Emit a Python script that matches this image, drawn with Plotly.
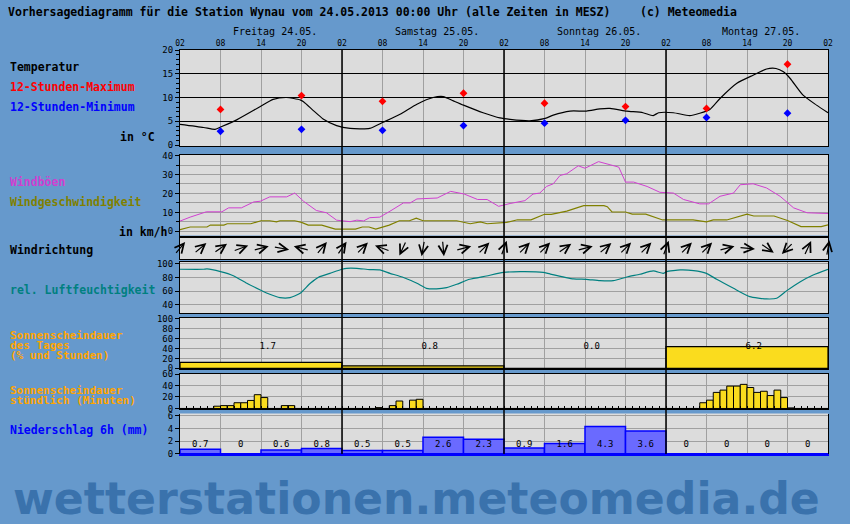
import math
import plotly.graph_objects as go

W, H = 850, 524

# ---------------- data (hours counted from Friday 24.05. 02:00) ----------------
day_names = ["Freitag 24.05.", "Samstag 25.05.", "Sonntag 26.05.", "Montag 27.05."]
hour_tick_labels = ["02", "08", "14", "20"]

temp_hours = [0, 3.5, 5.2, 6.2, 8.4, 11.9, 13.8, 15.8, 17.8, 18.3, 19.8, 21.2, 23.2, 25.2, 28.1,
              30.1, 32.6, 35.1, 37.5, 39, 40.5, 42, 44.9, 47.4, 48.9, 51.8, 54.1, 55.3, 57.8,
              60.2, 62.2, 63.7, 66.2, 68.6, 70.1, 70.9, 73.1, 75.5, 77, 78.5, 80, 82.5, 84.9,
              86.9, 88.3, 89.4, 90.4, 92.3, 94.3, 96]
temp_vals = [4.35, 3.7, 3.3, 3.9, 5.3, 8.1, 9.6, 10.0, 9.5, 9.1, 7.2, 5.5, 4.1, 3.5, 3.5,
             4.8, 6.5, 8.6, 10.0, 10.2, 9.3, 8.4, 6.8, 5.7, 5.4, 5.1, 5.6, 6.3, 7.15,
             7.15, 7.6, 7.7, 7.15, 6.8, 6.2, 6.8, 6.8, 6.2, 6.7, 7.5, 9.8, 13.0, 14.7,
             16.0, 16.1, 15.4, 14.0, 10.5, 8.4, 6.8]

tmm_hours = [6, 18, 30, 42, 54, 66, 78, 90]
tmax_vals = [7.5, 10.4, 9.2, 10.9, 8.8, 8.1, 7.7, 17.0]
tmin_vals = [2.9, 3.3, 3.1, 4.1, 4.6, 5.2, 5.8, 6.7]

gust_hours = [0, 1.5, 3.9, 6.2, 7.2, 9.1, 10.9, 11.9, 13.3, 15.8, 17, 18.3, 20.2, 21.7, 23.2,
              25.2, 26.2, 27.2, 28.1, 29.6, 31.1, 33.1, 34.1, 35.1, 38.1, 40.1, 42.1, 44.1,
              45.5, 47.2, 48.9, 51.1, 52.3, 53.3, 54.3, 55.3, 56.3, 57.3, 59, 60, 62, 63.7,
              65, 66, 67.2, 69.2, 71.1, 73.1, 74.6, 77, 78.3, 80, 82, 83, 84.9, 86.9, 88.9,
              90.9, 92.9, 96]
gust_vals = [5.4, 7.5, 10.3, 10.3, 12.4, 12.4, 15.5, 15.9, 18.2, 18.2, 20.2, 15.9, 11.0, 9.8, 5.9,
             5.1, 5.9, 5.5, 7.2, 7.5, 10.6, 15.0, 15.0, 17.1, 17.6, 21.1, 19.7, 16.8,
             16.8, 13.2, 14.7, 16.2, 19.7, 20.2, 23.7, 25.1, 29.5, 30.4, 34.6, 33.3, 36.8, 35.1,
             33.9, 26.0, 26.0, 23.7, 20.6, 20.2, 16.8, 14.5, 14.5, 18.5, 20.2, 24.6, 25.1, 22.9, 18.5,
             12.4, 9.8, 9.4]

wind_hours = [0, 1.5, 4, 4.5, 6.5, 7, 10.5, 12, 13.3, 14.3, 14.8, 17, 18, 19, 21, 23, 26, 27, 28,
              29, 31, 32.5, 34, 35, 36, 41, 43, 44.5, 45.5, 48.4, 50, 52, 54, 55, 57.3, 59.8,
              62.8, 63.3, 64, 66, 67, 69, 71.5, 76, 78, 79, 81, 82, 84, 85, 88, 90, 92, 95, 96]
wind_vals = [0.9, 2.3, 2.3, 3.3, 3.3, 4.0, 4.0, 5.6, 5.6, 5.0, 5.6, 5.6, 4.7, 3.3, 3.3, 1.2, 1.2, 2.3, 2.3,
             1.2, 3.3, 5.6, 5.6, 7.0, 5.6, 5.6, 4.0, 5.0, 4.0, 4.7, 6.1, 6.1, 9.0, 9.0, 10.7, 13.6,
             13.6, 13.0, 10.2, 10.2, 9.1, 9.1, 6.0, 6.0, 5.0, 6.0, 6.0, 7.0, 9.1, 8.1, 8.1, 5.7, 2.5, 2.5, 3.4]

dir_hours = list(range(0, 97, 3))
dir_deg = [220, 230, 235, 250, 255, 280, 105, 220, 215, 225, 110, 25, 10, 355, 255, 225,
           200, 225, 225, 235, 255, 230, 225, 225, 200, 225, 225, 255, 275, 305, 45, 205, 190]

rh_hours = [0, 3.5, 4, 6, 7.9, 9.9, 11.9, 13.3, 14.8, 16.3, 17.8, 19.3, 20.7, 22.2, 24, 24.7,
            26.2, 28.1, 29.6, 31.1, 33.1, 35.1, 36.5, 38.0, 39.5, 41, 42.9, 45.4, 47.9, 50.4,
            53.8, 54.8, 58.3, 60.2, 62.2, 64.2, 66.2, 68.1, 70.1, 71.6, 72.1, 74.1, 76.1, 78,
            79.5, 82, 84.4, 86.9, 88.4, 89.9, 91.9, 93.8, 96]
rh_vals = [92.2, 92.2, 92.7, 88.7, 82.7, 71.5, 61.7, 55.3, 50.3, 50.3, 56.7, 71.5, 81.3, 86.2, 92.2, 93.6,
           93.6, 91.7, 91.2, 86.2, 80.0, 71.5, 64.1, 63.2, 65.0, 70.0, 77.4, 82.3, 87.5, 88.7,
           87.7, 85.3, 77.9, 77.4, 75.4, 75.4, 80.8, 84.8, 89.7, 86.2, 88.7, 91.2, 90.2, 86.2,
           77.4, 64.1, 51.8, 48.4, 49.4, 60.7, 73.9, 83.8, 92.2]

sun_day_pct = [12, 5, 0, 44]
sun_day_hours = [1.7, 0.8, 0.0, 6.2]

# hourly sunshine in minutes, 24 values per day starting 02:00
sun_fri = [0, 0, 0, 0, 0, 4, 5, 5, 10, 10, 14, 24, 19, 0, 0, 5, 5, 0, 0, 0, 0, 0, 0, 0]
sun_sat = [0, 0, 0, 0, 0, 1.5, 0, 5, 13, 0, 14.5, 16, 0, 0, 0, 0, 0, 0, 0, 0, 0, 0, 0, 0]
sun_sun = [0] * 24
sun_mon = [0, 0, 0, 0, 0, 10, 14.5, 28, 32, 39, 39, 42, 36.5, 28, 30, 22.5, 32, 19, 1, 0, 0, 0, 0, 0]

precip_6h = [0.7, 0, 0.6, 0.8, 0.5, 0.5, 2.6, 2.3, 0.9, 1.6, 4.3, 3.6, 0, 0, 0, 0]

# ---------------- helpers ----------------
def PX(px):
    return px / W

def PY(py):
    return 1 - py / H

X0, X1 = 180, 828
px_per_hour = (X1 - X0) / 96.0

BG = "#6699CC"
PANEL = "#DCDCDC"
GRID = "#A0A0A0"
MONO = "DejaVu Sans Mono"
YELLOW = "#FADC1E"

panels = [
    (50, 146, [-0.2, 20], [0, 5, 10, 15, 20], "black", dict(dtick=1, ticks="outside", ticklen=3, tickcolor="black", showgrid=False)),
    (155, 235.5, [-2.2, 40.3], [0, 10, 20, 30, 40], GRID, dict(dtick=5, ticks="outside", ticklen=3, tickcolor="black", showgrid=True, gridcolor=GRID)),
    (237.5, 259, [-1, 1], [], GRID, None),
    (262, 313, [27.7, 102.9], [40, 60, 80, 100], GRID, None),
    (318, 369, [-1.4, 102], [0, 20, 40, 60, 80, 100], GRID, None),
    (373.5, 409, [-0.9, 60.9], [0, 20, 40, 60], GRID, None),
    (413.5, 454, [-0.05, 6.35], [0, 2, 4, 6], GRID, None),
]

layout = dict(
    template="none",
    width=W, height=H, autosize=False,
    margin=dict(l=0, r=0, t=0, b=0, pad=0, autoexpand=False),
    paper_bgcolor=BG, plot_bgcolor=PANEL,
    showlegend=False, barmode="overlay",
    font=dict(family=MONO, size=9, color="black"),
)

xt = list(range(0, 97, 6))
for i, (top, bot, rng, tv, gc, minor) in enumerate(panels):
    k = i + 1
    xa = "xaxis" if k == 1 else f"xaxis{k}"
    ya = "yaxis" if k == 1 else f"yaxis{k}"
    xd = dict(domain=[PX(X0), PX(X1)], range=[0, 96], anchor=("y" if k == 1 else f"y{k}"),
              tickvals=xt, showgrid=True, gridcolor=GRID, gridwidth=1, automargin=False,
              showline=True, mirror=True, linecolor="black", linewidth=1,
              zeroline=False, ticks="", showticklabels=False, fixedrange=True)
    if k == 1:
        xd.update(side="top", showticklabels=True,
                  ticktext=[hour_tick_labels[j % 4] for j in range(len(xt))],
                  tickfont=dict(family=MONO, size=8, color="black"))
    if k == 6:
        xd.update(ticks="inside", ticklen=3, tickcolor="black",
                  minor=dict(dtick=1, tick0=0, ticks="inside", ticklen=3, tickcolor="black", showgrid=False))
    if k == 7:
        xd.update(mirror=False, linecolor="#0000FF", linewidth=1.5)
    layout[xa] = xd
    yd = dict(domain=[PY(bot), PY(top)], range=rng, anchor=("x" if k == 1 else f"x{k}"),
              tickvals=tv, showgrid=bool(tv), gridcolor=gc, gridwidth=1, automargin=False,
              showline=True, mirror=True, linecolor="black", linewidth=1,
              zeroline=False, ticks=("outside" if tv else ""), ticklen=4, tickcolor="black",
              tickfont=dict(family=MONO, size=9, color="black"), fixedrange=True)
    if minor:
        yd["minor"] = minor
    if k == 1:
        yd.update(zeroline=True, zerolinecolor="black", zerolinewidth=3)
    layout[ya] = yd

fig = go.Figure(layout=layout)

# temperature
fig.add_trace(go.Scatter(x=temp_hours, y=temp_vals, mode="lines", line=dict(color="black", width=1.2, shape="spline", smoothing=0.6),
                         xaxis="x", yaxis="y"))
fig.add_trace(go.Scatter(x=tmm_hours, y=tmax_vals, mode="markers", marker=dict(symbol="diamond", size=6, color="#FF0000"),
                         xaxis="x", yaxis="y"))
fig.add_trace(go.Scatter(x=tmm_hours, y=tmin_vals, mode="markers", marker=dict(symbol="diamond", size=6, color="#0000FF"),
                         xaxis="x", yaxis="y"))

# wind
fig.add_trace(go.Scatter(x=gust_hours, y=gust_vals, mode="lines", line=dict(color="#D040D0", width=1),
                         xaxis="x2", yaxis="y2"))
fig.add_trace(go.Scatter(x=wind_hours, y=wind_vals, mode="lines", line=dict(color="#808000", width=1.2),
                         xaxis="x2", yaxis="y2"))

# humidity
fig.add_trace(go.Scatter(x=rh_hours, y=rh_vals, mode="lines", line=dict(color="#008080", width=1.2, shape="spline", smoothing=0.5),
                         xaxis="x4", yaxis="y4"))

# daily sunshine
day_centers = [12 + 24 * d for d in range(4)]
fig.add_trace(go.Bar(x=day_centers, y=sun_day_pct, width=24, marker=dict(color=YELLOW, line=dict(color="black", width=1.2)),
                     xaxis="x5", yaxis="y5"))
fig.add_trace(go.Scatter(x=[13 + 24 * d for d in range(4)], y=[43] * 4, mode="text",
                         text=[f"{v:.1f}" for v in sun_day_hours], textfont=dict(family=MONO, size=9, color="black"),
                         xaxis="x5", yaxis="y5"))

# hourly sunshine
sun_hourly = sun_fri + sun_sat + sun_sun + sun_mon
fig.add_trace(go.Bar(x=[h + 0.5 for h in range(96)], y=sun_hourly, width=1,
                     marker=dict(color=YELLOW, line=dict(color="black", width=1)),
                     xaxis="x6", yaxis="y6"))

# precipitation
bins = [3 + 6 * i for i in range(16)]
fig.add_trace(go.Bar(x=bins, y=precip_6h, width=6, marker=dict(color="#6A6AFF", line=dict(color="#0000FF", width=1.5)),
                     xaxis="x7", yaxis="y7"))
fig.add_trace(go.Scatter(x=bins, y=[1.4] * 16, mode="text",
                         text=[("0" if v == 0 else f"{v:.1f}") for v in precip_6h],
                         textfont=dict(family=MONO, size=9, color="black"), xaxis="x7", yaxis="y7"))

# day separator lines
for d in [24, 48, 72]:
    fig.add_shape(type="line", xref="x", yref="paper", x0=d, x1=d, y0=PY(454), y1=PY(50),
                  line=dict(color="black", width=1.5), layer="above")

ann = []
# wind direction arrows
dir_px_per_unit = (259 - 237.5) / 2.0
half = 8.0
for h, d in zip(dir_hours, dir_deg):
    a = math.radians(270 - d)
    dxh = half * math.cos(a) / px_per_hour
    dyu = half * math.sin(a) / dir_px_per_unit
    ann.append(dict(x=h + dxh, y=dyu, ax=h - dxh, ay=-dyu, xref="x3", yref="y3", axref="x3", ayref="y3",
                    text="", showarrow=True, arrowhead=5, arrowsize=1.5, arrowwidth=1.2, arrowcolor="black"))

def label(txt, px, py, color="black", size=11.5, anchor="left", bold=True, family=MONO, yanchor="middle"):
    ann.append(dict(x=PX(px), y=PY(py), xref="paper", yref="paper", text=(f"<b>{txt}</b>" if bold else txt),
                    showarrow=False, xanchor=anchor, yanchor=yanchor, borderpad=0,
                    font=dict(family=family, size=size, color=color)))

label("Vorhersagediagramm für die Station Wynau vom 24.05.2013 00:00 Uhr (alle Zeiten in MESZ)", 7, 12)
label("(c) Meteomedia", 639, 12)
for d, name in enumerate(day_names):
    label(name, X0 + (14 + 24 * d) * px_per_hour, 32, size=10, anchor="center", bold=False)

label("Temperatur", 9, 67)
label("12-Stunden-Maximum", 9, 87, color="#FF0000")
label("12-Stunden-Minimum", 9, 107, color="#0000FF")
label("in °C", 156, 137, anchor="right")
label("Windböen", 9, 182, color="#D040D0")
label("Windgeschwindigkeit", 9, 202, color="#808000")
label("in km/h", 169, 232, anchor="right")
label("Windrichtung", 9, 250)
label("rel. Luftfeuchtigkeit", 9, 290, color="#008080")
label("Sonnenscheindauer", 9, 335, color="#FFA500", size=11)
label("des Tages", 9, 345, color="#FFA500", size=11)
label("(% und Stunden)", 9, 355, color="#FFA500", size=11)
label("Sonnenscheindauer", 9, 390, color="#FFA500", size=11)
label("stündlich (Minuten)", 9, 400, color="#FFA500", size=11)
label("Niederschlag 6h (mm)", 9, 430, color="#0000FF")

label("wetterstationen.meteomedia.de", 12, 525, color="#3A72AC", size=44.2, family="DejaVu Sans", yanchor="bottom")

fig.update_layout(annotations=ann)

post = ("var d=document.documentElement,b=document.body;"
        "d.style.margin='0';d.style.padding='0';d.style.overflow='hidden';"
        "b.style.margin='0';b.style.padding='0';b.style.overflow='hidden';")
fig.write_html("out.html", config={"displayModeBar": False, "responsive": False}, post_script=post)
